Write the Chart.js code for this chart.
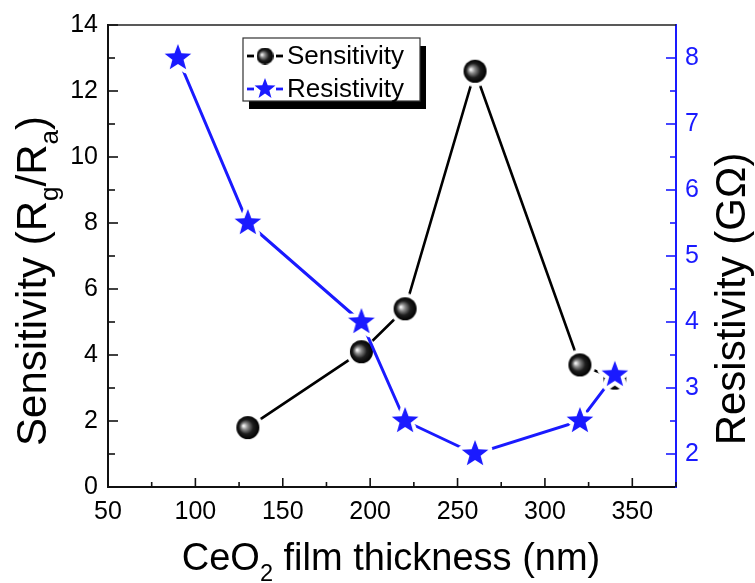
<!DOCTYPE html>
<html>
<head>
<meta charset="utf-8">
<title>CeO2 film thickness: sensitivity and resistivity</title>
<script src="https://cdn.jsdelivr.net/npm/chart.js@4.4.1/dist/chart.umd.min.js"></script>
<style>
  html, body { margin: 0; padding: 0; background: #ffffff; }
  #wrap { width: 755px; height: 583px; }
</style>
</head>
<body>
<div id="wrap"><canvas id="c" width="755" height="583"></canvas></div>
<script>
// Film thickness (nm) and measured values
const sensThickness = [130, 195, 220, 260, 320, 340];
const sensitivity   = [1.8, 4.1, 5.4, 12.6, 3.7, 3.3];
const resThickness  = [90, 130, 195, 220, 260, 320, 340];
const resistivity   = [8.0, 5.5, 4.0, 2.5, 2.0, 2.5, 3.2];

const xTicks      = [50, 100, 150, 200, 250, 300, 350];
const sensTicks   = [0, 2, 4, 6, 8, 10, 12, 14];
const resTicks    = [2, 3, 4, 5, 6, 7, 8];

const seriesNames = ['Sensitivity', 'Resistivity'];

const BLUE = '#1a1aff';
const FONT = '"Liberation Sans", Arial, Helvetica, sans-serif';

// Shiny black ball marker with a white halo so the line stops short of it
function makeBall(r, halo) {
  const s = Math.ceil(2 * (r + halo));
  const cv = document.createElement('canvas');
  cv.width = s; cv.height = s;
  const g = cv.getContext('2d');
  const c = s / 2;
  if (halo > 0) {
    g.fillStyle = '#ffffff';
    g.beginPath(); g.arc(c, c, r + halo, 0, Math.PI * 2); g.fill();
  }
  const grad = g.createRadialGradient(c - r * 0.38, c - r * 0.15, r * 0.05, c, c, r);
  grad.addColorStop(0, '#f4f4f4');
  grad.addColorStop(0.25, '#8a8a8a');
  grad.addColorStop(0.6, '#1e1e1e');
  grad.addColorStop(1, '#000000');
  g.fillStyle = grad;
  g.beginPath(); g.arc(c, c, r, 0, Math.PI * 2); g.fill();
  return cv;
}

// Filled five-point star marker with a white halo
function makeStar(R, halo, color) {
  const s = Math.ceil(2 * (R + halo));
  const cv = document.createElement('canvas');
  cv.width = s; cv.height = s;
  const g = cv.getContext('2d');
  const c = s / 2;
  const ri = R * 0.42;
  g.beginPath();
  for (let i = 0; i < 10; i++) {
    const rad = i % 2 === 0 ? R : ri;
    const a = -Math.PI / 2 + i * Math.PI / 5;
    const px = c + rad * Math.cos(a), py = c + rad * Math.sin(a);
    if (i === 0) g.moveTo(px, py); else g.lineTo(px, py);
  }
  g.closePath();
  if (halo > 0) {
    g.lineJoin = 'round';
    g.strokeStyle = '#ffffff';
    g.lineWidth = halo * 2;
    g.stroke();
  }
  g.fillStyle = color;
  g.fill();
  return cv;
}

const ballImg = makeBall(11.5, 4);
const starImg = makeStar(14, 4, BLUE);
const ballLegend = makeBall(8.5, 0);
const starLegend = makeStar(11, 0, BLUE);

// Axis titles with subscripts
function drawRich(ctx, parts, x, y, size, align) {
  let total = 0;
  parts.forEach(p => {
    ctx.font = (p.sub ? size * 0.62 : size) + 'px ' + FONT;
    p.w = ctx.measureText(p.t).width;
    total += p.w;
  });
  let cx = align === 'center' ? x - total / 2 : x;
  parts.forEach(p => {
    ctx.font = (p.sub ? size * 0.62 : size) + 'px ' + FONT;
    ctx.fillText(p.t, cx, p.sub ? y + size * 0.28 : y);
    cx += p.w;
  });
}

const decorations = {
  id: 'decorations',
  afterDraw(chart) {
    const ctx = chart.ctx;
    const xs = chart.scales.x, yl = chart.scales.y, yr = chart.scales.y2;
    const a = chart.chartArea;
    ctx.save();

    // frame: top border
    ctx.strokeStyle = '#222222';
    ctx.lineWidth = 1.6;
    ctx.beginPath(); ctx.moveTo(a.left, a.top); ctx.lineTo(a.right, a.top); ctx.stroke();

    // inward ticks, bottom axis
    ctx.lineWidth = 1.6;
    ctx.strokeStyle = '#111111';
    for (let v = 50; v <= 375; v += 25) {
      const px = xs.getPixelForValue(v);
      const len = (v % 50 === 0) ? 9 : 5;
      ctx.beginPath(); ctx.moveTo(px, a.bottom); ctx.lineTo(px, a.bottom - len); ctx.stroke();
    }
    // inward ticks, left axis
    for (let v = 0; v <= 14; v += 1) {
      const py = yl.getPixelForValue(v);
      const len = (v % 2 === 0) ? 10 : 7;
      ctx.beginPath(); ctx.moveTo(a.left, py); ctx.lineTo(a.left + len, py); ctx.stroke();
    }
    // inward ticks, right axis
    ctx.strokeStyle = BLUE;
    for (let v = 2; v <= 8; v += 0.5) {
      const py = yr.getPixelForValue(v);
      const len = (Math.abs(v - Math.round(v)) < 1e-6) ? 10 : 6;
      ctx.beginPath(); ctx.moveTo(a.right, py); ctx.lineTo(a.right - len, py); ctx.stroke();
    }

    // axis titles
    ctx.fillStyle = '#000000';
    ctx.textBaseline = 'alphabetic';
    ctx.textAlign = 'left';
    drawRich(ctx, [{t: 'CeO'}, {t: '2', sub: true}, {t: ' film thickness (nm)'}], 391, 570, 38, 'center');

    ctx.save();
    ctx.translate(46, 281);
    ctx.rotate(-Math.PI / 2);
    drawRich(ctx, [{t: 'Sensitivity (R'}, {t: 'g', sub: true}, {t: '/R'}, {t: 'a', sub: true}, {t: ')'}], 0, 0, 42, 'center');
    ctx.restore();

    ctx.save();
    ctx.translate(745, 299);
    ctx.rotate(-Math.PI / 2);
    drawRich(ctx, [{t: 'Resistivity (G\u03A9)'}], 0, 0, 42, 'center');
    ctx.restore();

    // legend with drop shadow
    const lx = 243, ly = 38, lw = 177, lh = 63;
    ctx.fillStyle = '#000000';
    ctx.fillRect(lx + 6, ly + 8, lw, lh);
    ctx.fillStyle = '#ffffff';
    ctx.fillRect(lx, ly, lw, lh);
    ctx.strokeStyle = '#333333';
    ctx.lineWidth = 1.2;
    ctx.strokeRect(lx, ly, lw, lh);

    const rows = [
      {y: ly + 18, color: '#000000', img: ballLegend, name: seriesNames[0]},
      {y: ly + 51, color: BLUE, img: starLegend, name: seriesNames[1]}
    ];
    rows.forEach(r => {
      ctx.strokeStyle = r.color;
      ctx.lineWidth = 2.8;
      ctx.beginPath(); ctx.moveTo(lx + 4, r.y); ctx.lineTo(lx + 11, r.y); ctx.stroke();
      ctx.beginPath(); ctx.moveTo(lx + 33, r.y); ctx.lineTo(lx + 40, r.y); ctx.stroke();
      ctx.drawImage(r.img, lx + 22 - r.img.width / 2, r.y - r.img.height / 2);
      ctx.fillStyle = '#000000';
      ctx.font = '26px ' + FONT;
      ctx.textBaseline = 'middle';
      ctx.fillText(r.name, lx + 44, r.y + 1);
    });
    ctx.restore();
  }
};

const fixedSizes = {
  x: 96, y: 108, y2: 79
};

new Chart(document.getElementById('c'), {
  type: 'line',
  data: {
    datasets: [
      {
        label: seriesNames[0],
        data: sensThickness.map((t, i) => ({x: t, y: sensitivity[i]})),
        yAxisID: 'y',
        borderColor: '#000000',
        borderWidth: 2.6,
        pointStyle: ballImg,
        pointRadius: 12,
        pointHoverRadius: 12,
        tension: 0,
        order: 2
      },
      {
        label: seriesNames[1],
        data: resThickness.map((t, i) => ({x: t, y: resistivity[i]})),
        yAxisID: 'y2',
        borderColor: BLUE,
        borderWidth: 3,
        pointStyle: starImg,
        pointRadius: 14,
        pointHoverRadius: 14,
        tension: 0,
        order: 1
      }
    ]
  },
  options: {
    responsive: false,
    animation: false,
    events: [],
    layout: { padding: { top: 24, left: 0, right: 0, bottom: 0 } },
    plugins: { legend: { display: false }, tooltip: { enabled: false } },
    scales: {
      x: {
        type: 'linear',
        min: 50, max: 375,
        afterBuildTicks: s => { s.ticks = xTicks.map(v => ({value: v})); },
        afterFit: s => { s.height = fixedSizes.x; },
        grid: { display: false, drawTicks: false },
        border: { display: true, color: '#111111', width: 2 },
        ticks: { color: '#000000', font: { family: FONT, size: 25 }, padding: 10, maxRotation: 0 }
      },
      y: {
        position: 'left',
        min: 0, max: 14,
        afterBuildTicks: s => { s.ticks = sensTicks.map(v => ({value: v})); },
        afterFit: s => { s.width = fixedSizes.y; },
        grid: { display: false, drawTicks: false },
        border: { display: true, color: '#111111', width: 2 },
        ticks: { color: '#000000', font: { family: FONT, size: 25 }, padding: 10 }
      },
      y2: {
        position: 'right',
        min: 1.5, max: 8.5,
        afterBuildTicks: s => { s.ticks = resTicks.map(v => ({value: v})); },
        afterFit: s => { s.width = fixedSizes.y2; },
        grid: { display: false, drawTicks: false },
        border: { display: true, color: BLUE, width: 2 },
        ticks: { color: BLUE, font: { family: FONT, size: 25 }, padding: 9 }
      }
    }
  },
  plugins: [decorations]
});
</script>
</body>
</html>
